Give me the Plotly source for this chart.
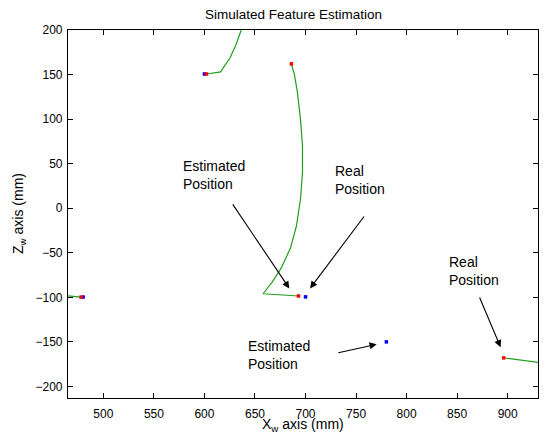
import plotly.graph_objects as go

# Estimated trajectories (green)
traj1_x = [602, 616, 620, 625, 631, 635, 637, 639]
traj1_z = [150.6, 153, 160, 168, 183, 196, 202, 208]

traj2_x = [686, 689, 692, 695, 697, 697, 695, 691, 685, 676, 667, 658, 693]
traj2_z = [162, 150, 130, 100, 70, 40, 10, -20, -45, -67, -83, -96, -98.5]

traj3_x = [462, 478]
traj3_z = [-98, -99.7]

traj4_x = [896, 936]
traj4_z = [-168, -174]

# Estimated positions (red)
est_x = [602, 686, 693, 478, 896]
est_z = [150.6, 162, -98.5, -99.7, -168]

# Real positions (blue)
real_x = [600, 700, 480, 780]
real_z = [150.6, -99.5, -99.7, -150]

# Annotations: (text, x, z)
labels = [
    ("Estimated<br>Position", 577, 37),
    ("Real<br>Position", 727, 32),
    ("Real<br>Position", 840, -70),
    ("Estimated<br>Position", 641, -165),
]
# Arrows: head (x, z), tail (x, z)
arrows = [
    (684, -90, 627, 6),
    (704.5, -90, 759, -7.6),
    (893, -156, 871.6, -98.5),
    (770.4, -152.7, 731, -162.5),
]

green = "#1f9e1f"
font = "Liberation Sans, Arial, sans-serif"

fig = go.Figure()
for xs, zs in [(traj1_x, traj1_z), (traj2_x, traj2_z), (traj3_x, traj3_z), (traj4_x, traj4_z)]:
    fig.add_trace(go.Scatter(x=xs, y=zs, mode="lines",
                             line=dict(color=green, width=1.2), showlegend=False,
                             hoverinfo="skip"))
fig.add_trace(go.Scatter(x=real_x, y=real_z, mode="markers",
                         marker=dict(color="#0000ff", size=3.5, symbol="square", line=dict(width=0)),
                         showlegend=False))
fig.add_trace(go.Scatter(x=est_x, y=est_z, mode="markers",
                         marker=dict(color="#ff0000", size=3.5, symbol="square", line=dict(width=0)),
                         showlegend=False))

for t, x, z in labels:
    fig.add_annotation(x=x, y=z, xref="x", yref="y", text=t, showarrow=False,
                       xanchor="left", yanchor="middle", align="left",
                       font=dict(family=font, size=14, color="black"))
for hx, hz, tx, tz in arrows:
    fig.add_annotation(x=hx, y=hz, ax=tx, ay=tz, xref="x", yref="y",
                       axref="x", ayref="y", text="", showarrow=True,
                       arrowhead=2, arrowsize=1.3, arrowwidth=1.1,
                       arrowcolor="black", standoff=0, startstandoff=0)

fig.add_annotation(x=(293 - 68) / 470, y=1 + (30 - 14) / 368, xref="paper", yref="paper",
                   text="Simulated Feature Estimation", showarrow=False, yanchor="middle",
                   font=dict(family=font, size=13.5, color="black"))
fig.add_annotation(x=0.5, y=-(425 - 398) / 368, xref="paper", yref="paper",
                   text="X<sub>w</sub> axis (mm)", showarrow=False, yanchor="middle",
                   font=dict(family=font, size=14, color="black"))
fig.add_annotation(x=-(68 - 19) / 470, y=0.5, xref="paper", yref="paper",
                   text="Z<sub>w</sub> axis (mm)", showarrow=False, textangle=-90,
                   xanchor="center", yanchor="middle",
                   font=dict(family=font, size=14, color="black"))

axis_common = dict(
    showline=True, linecolor="black", linewidth=1.2, mirror="ticks",
    ticks="inside", ticklen=5, tickwidth=1, tickcolor="black",
    showgrid=False, zeroline=False, automargin=False,
    tickfont=dict(family=font, size=12, color="black"),
)
fig.update_xaxes(range=[465, 930], tickvals=[500, 550, 600, 650, 700, 750, 800, 850, 900],
                 ticklabelstandoff=4, **axis_common)
fig.update_yaxes(range=[-213, 200], tickvals=[-200, -150, -100, -50, 0, 50, 100, 150, 200],
                 ticklabelstandoff=2, **axis_common)

fig.update_layout(
    width=546, height=436,
    margin=dict(l=68, r=8, t=30, b=38, pad=0, autoexpand=False),
    plot_bgcolor="white", paper_bgcolor="white",
    showlegend=False,
)

fig.write_html("out.html", config={"displayModeBar": False},
               post_script="document.body.style.margin='0px';document.body.style.overflow='hidden';")
